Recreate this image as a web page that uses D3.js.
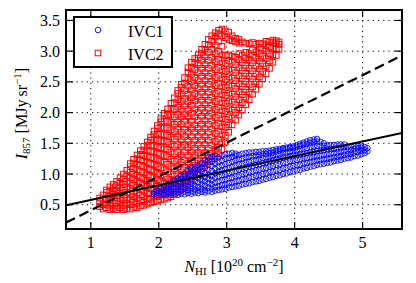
<!DOCTYPE html>
<html>
<head>
<meta charset="utf-8">
<script src="https://cdn.jsdelivr.net/npm/d3@7"></script>
<style>
  body { margin: 0; background: #fff; }
  text { font-family: "Liberation Serif", "DejaVu Serif", serif; }
</style>
</head>
<body>
<div id="chart"></div>
<script>
// tick values
const xTicks = [1, 2, 3, 4, 5];
const yTicks = [0.5, 1.0, 1.5, 2.0, 2.5, 3.0, 3.5];

// fitted lines: [intercept, slope]
const solidFit = [0.34, 0.238];
const dashedFit = [-0.14, 0.55];

// IVC1 points, grouped by N_HI column: [x, [y values]]
const ivc1Cols = [
  [1.93, [0.67, 0.70]],
  [1.98, [0.66, 0.69, 0.73]],
  [2.03, [0.67, 0.71, 0.76]],
  [2.08, [0.66, 0.69, 0.74, 0.79]],
  [2.13, [0.67, 0.72, 0.77, 0.83]],
  [2.18, [0.66, 0.70, 0.75, 0.81, 0.86]],
  [2.23, [0.67, 0.72, 0.78, 0.84, 0.90]],
  [2.28, [0.66, 0.70, 0.75, 0.81, 0.88, 0.93]],
  [2.33, [0.68, 0.73, 0.79, 0.85, 0.92, 0.97]],
  [2.38, [0.67, 0.71, 0.77, 0.83, 0.89, 0.96, 1.00]],
  [2.43, [0.69, 0.74, 0.80, 0.87, 0.93, 1.00, 1.05]],
  [2.48, [0.68, 0.72, 0.78, 0.84, 0.91, 0.98, 1.04, 1.09]],
  [2.53, [0.70, 0.75, 0.81, 0.88, 0.95, 1.02, 1.08, 1.12]],
  [2.58, [0.69, 0.73, 0.79, 0.86, 0.93, 1.00, 1.07, 1.14]],
  [2.63, [0.71, 0.76, 0.83, 0.90, 0.97, 1.04, 1.11, 1.17]],
  [2.68, [0.70, 0.74, 0.81, 0.88, 0.95, 1.02, 1.10, 1.17, 1.22]],
  [2.73, [0.72, 0.78, 0.85, 0.92, 0.99, 1.07, 1.15, 1.22, 1.27]],
  [2.78, [0.71, 0.76, 0.83, 0.90, 0.97, 1.05, 1.13, 1.20, 1.28]],
  [2.83, [0.73, 0.79, 0.86, 0.94, 1.01, 1.09, 1.17, 1.24, 1.29]],
  [2.88, [0.74, 0.80, 0.88, 0.96, 1.04, 1.12, 1.20, 1.27]],
  [2.93, [0.75, 0.82, 0.90, 0.98, 1.06, 1.14, 1.22, 1.30]],
  [2.98, [0.76, 0.83, 0.91, 0.99, 1.08, 1.16, 1.25, 1.32]],
  [3.03, [0.78, 0.85, 0.93, 1.01, 1.10, 1.18, 1.26, 1.33]],
  [3.08, [0.79, 0.86, 0.94, 1.03, 1.12, 1.20, 1.28, 1.34]],
  [3.13, [0.80, 0.88, 0.96, 1.05, 1.14, 1.22, 1.30, 1.33]],
  [3.18, [0.81, 0.89, 0.98, 1.07, 1.16, 1.24, 1.31]],
  [3.23, [0.83, 0.91, 1.00, 1.09, 1.17, 1.25, 1.33]],
  [3.28, [0.84, 0.92, 1.01, 1.10, 1.19, 1.27, 1.34]],
  [3.33, [0.85, 0.94, 1.03, 1.12, 1.20, 1.28, 1.35]],
  [3.38, [0.87, 0.95, 1.04, 1.13, 1.22, 1.29, 1.35]],
  [3.43, [0.88, 0.97, 1.06, 1.15, 1.23, 1.30, 1.36]],
  [3.48, [0.89, 0.98, 1.07, 1.16, 1.24, 1.31, 1.36]],
  [3.53, [0.91, 1.00, 1.09, 1.18, 1.26, 1.32, 1.37]],
  [3.58, [0.92, 1.01, 1.10, 1.19, 1.27, 1.33, 1.37]],
  [3.63, [0.94, 1.03, 1.12, 1.21, 1.28, 1.34, 1.38]],
  [3.68, [0.95, 1.04, 1.13, 1.22, 1.30, 1.35, 1.39]],
  [3.73, [0.97, 1.06, 1.15, 1.24, 1.31, 1.37, 1.40]],
  [3.78, [0.98, 1.07, 1.16, 1.25, 1.32, 1.38, 1.41]],
  [3.83, [1.00, 1.09, 1.18, 1.27, 1.34, 1.40, 1.42]],
  [3.88, [1.01, 1.10, 1.19, 1.28, 1.35, 1.41, 1.43]],
  [3.93, [1.03, 1.12, 1.21, 1.29, 1.36, 1.42, 1.44]],
  [3.98, [1.04, 1.13, 1.22, 1.30, 1.37, 1.43, 1.45]],
  [4.03, [1.06, 1.14, 1.23, 1.31, 1.38, 1.44, 1.47]],
  [4.08, [1.07, 1.15, 1.24, 1.32, 1.40, 1.46, 1.49]],
  [4.13, [1.09, 1.17, 1.25, 1.33, 1.41, 1.48, 1.51]],
  [4.18, [1.10, 1.18, 1.26, 1.34, 1.42, 1.49, 1.53]],
  [4.23, [1.12, 1.19, 1.27, 1.35, 1.44, 1.51, 1.55]],
  [4.28, [1.13, 1.21, 1.28, 1.36, 1.45, 1.52, 1.56]],
  [4.33, [1.15, 1.22, 1.29, 1.37, 1.46, 1.53, 1.57]],
  [4.38, [1.16, 1.23, 1.30, 1.38, 1.46, 1.52]],
  [4.43, [1.17, 1.24, 1.31, 1.39, 1.46, 1.50]],
  [4.48, [1.18, 1.25, 1.32, 1.40, 1.47]],
  [4.53, [1.19, 1.26, 1.33, 1.41, 1.47]],
  [4.58, [1.21, 1.27, 1.34, 1.41, 1.47]],
  [4.63, [1.22, 1.28, 1.35, 1.42, 1.48]],
  [4.68, [1.23, 1.29, 1.36, 1.43, 1.48]],
  [4.73, [1.25, 1.31, 1.37, 1.44, 1.48]],
  [4.78, [1.26, 1.32, 1.38, 1.44]],
  [4.83, [1.27, 1.33, 1.39, 1.45]],
  [4.88, [1.29, 1.35, 1.41, 1.46]],
  [4.93, [1.30, 1.36, 1.42, 1.46]],
  [4.98, [1.32, 1.38, 1.43, 1.46]],
  [5.03, [1.34, 1.39, 1.44]],
  [5.07, [1.37, 1.42]]
];

// IVC2 points, grouped by N_HI column
const ivc2Cols = [
  [1.13, [0.47, 0.55, 0.61]],
  [1.18, [0.43, 0.50, 0.58, 0.66]],
  [1.23, [0.45, 0.53, 0.60, 0.70, 0.74]],
  [1.28, [0.42, 0.49, 0.57, 0.64, 0.72, 0.79]],
  [1.33, [0.44, 0.52, 0.61, 0.68, 0.76, 0.83]],
  [1.38, [0.42, 0.48, 0.56, 0.65, 0.73, 0.81, 0.88]],
  [1.43, [0.45, 0.53, 0.60, 0.69, 0.78, 0.86, 0.94]],
  [1.48, [0.42, 0.49, 0.57, 0.66, 0.74, 0.83, 0.92, 1.00]],
  [1.53, [0.44, 0.53, 0.61, 0.70, 0.79, 0.88, 0.97, 1.06]],
  [1.58, [0.43, 0.50, 0.58, 0.67, 0.76, 0.85, 0.94, 1.03, 1.12, 1.17]],
  [1.63, [0.46, 0.55, 0.63, 0.72, 0.82, 0.91, 1.00, 1.09, 1.18, 1.24]],
  [1.68, [0.45, 0.52, 0.60, 0.69, 0.79, 0.88, 0.98, 1.07, 1.16, 1.25, 1.31]],
  [1.73, [0.48, 0.57, 0.66, 0.75, 0.85, 0.95, 1.04, 1.14, 1.23, 1.32, 1.38]],
  [1.78, [0.49, 0.55, 0.63, 0.72, 0.82, 0.92, 1.02, 1.12, 1.21, 1.30, 1.39, 1.45]],
  [1.83, [0.51, 0.60, 0.69, 0.79, 0.89, 0.99, 1.09, 1.19, 1.29, 1.39, 1.47, 1.52]],
  [1.88, [0.53, 0.59, 0.67, 0.76, 0.86, 0.96, 1.07, 1.17, 1.27, 1.37, 1.47, 1.55, 1.60]],
  [1.93, [0.55, 0.64, 0.73, 0.83, 0.94, 1.04, 1.15, 1.25, 1.36, 1.46, 1.56, 1.64, 1.70]],
  [1.98, [0.56, 0.63, 0.71, 0.80, 0.91, 1.01, 1.12, 1.23, 1.34, 1.44, 1.55, 1.65, 1.74, 1.79]],
  [2.03, [0.58, 0.68, 0.77, 0.88, 0.99, 1.10, 1.21, 1.32, 1.43, 1.54, 1.65, 1.76, 1.85, 1.90]],
  [2.08, [0.59, 0.66, 0.75, 0.85, 0.96, 1.07, 1.19, 1.30, 1.41, 1.53, 1.64, 1.75, 1.86, 1.95, 1.99]],
  [2.13, [0.61, 0.71, 0.81, 0.92, 1.04, 1.16, 1.28, 1.40, 1.52, 1.63, 1.75, 1.86, 1.97, 2.06]],
  [2.18, [0.63, 0.70, 0.79, 0.89, 1.00, 1.12, 1.24, 1.36, 1.48, 1.60, 1.72, 1.84, 1.96, 2.07, 2.15]],
  [2.23, [0.67, 0.76, 0.86, 0.97, 1.09, 1.21, 1.33, 1.45, 1.57, 1.69, 1.81, 1.93, 2.05, 2.16, 2.24]],
  [2.28, [0.71, 0.79, 0.89, 1.00, 1.12, 1.24, 1.36, 1.48, 1.61, 1.73, 1.85, 1.97, 2.09, 2.21, 2.31, 2.36]],
  [2.33, [0.75, 0.85, 0.96, 1.07, 1.19, 1.31, 1.44, 1.56, 1.68, 1.81, 1.93, 2.05, 2.18, 2.30, 2.41, 2.46]],
  [2.38, [0.80, 0.88, 0.99, 1.11, 1.23, 1.36, 1.48, 1.61, 1.73, 1.86, 1.98, 2.11, 2.23, 2.36, 2.48, 2.57]],
  [2.43, [0.85, 0.95, 1.06, 1.18, 1.30, 1.43, 1.55, 1.68, 1.80, 1.93, 2.05, 2.18, 2.30, 2.43, 2.55, 2.66, 2.73]],
  [2.48, [0.90, 0.99, 1.11, 1.23, 1.36, 1.48, 1.61, 1.74, 1.86, 1.99, 2.12, 2.24, 2.37, 2.50, 2.62, 2.74, 2.82]],
  [2.53, [0.96, 1.06, 1.18, 1.30, 1.42, 1.55, 1.68, 1.80, 1.93, 2.06, 2.19, 2.31, 2.44, 2.57, 2.70, 2.81, 2.88]],
  [2.58, [1.02, 1.11, 1.23, 1.35, 1.48, 1.61, 1.74, 1.87, 2.00, 2.13, 2.26, 2.39, 2.52, 2.65, 2.78, 2.89, 2.94]],
  [2.63, [1.08, 1.18, 1.30, 1.42, 1.55, 1.68, 1.81, 1.94, 2.07, 2.20, 2.33, 2.46, 2.59, 2.72, 2.85, 2.97, 3.03]],
  [2.68, [1.14, 1.23, 1.35, 1.48, 1.61, 1.74, 1.87, 2.00, 2.13, 2.26, 2.39, 2.52, 2.65, 2.78, 2.91, 3.03, 3.11]],
  [2.73, [1.20, 1.30, 1.42, 1.55, 1.68, 1.81, 1.94, 2.07, 2.20, 2.33, 2.46, 2.59, 2.72, 2.85, 2.98, 3.10, 3.19]],
  [2.78, [1.25, 1.34, 1.47, 1.60, 1.73, 1.86, 1.99, 2.12, 2.25, 2.38, 2.51, 2.64, 2.77, 2.90, 3.03, 3.16, 3.25]],
  [2.83, [1.29, 1.40, 1.53, 1.66, 1.79, 1.92, 2.05, 2.18, 2.31, 2.44, 2.57, 2.70, 2.83, 2.96, 3.10, 3.23, 3.30]],
  [2.88, [1.33, 1.44, 1.57, 1.70, 1.83, 1.96, 2.09, 2.22, 2.35, 2.48, 2.61, 2.74, 2.87, 3.00, 3.16, 3.28, 3.34]],
  [2.93, [1.40, 1.51, 1.64, 1.77, 1.90, 2.03, 2.16, 2.29, 2.42, 2.55, 2.68, 2.81, 2.94, 3.08, 3.25, 3.36]],
  [2.98, [1.52, 1.63, 1.76, 1.89, 2.02, 2.15, 2.28, 2.41, 2.54, 2.67, 2.80, 2.93, 3.22, 3.33]],
  [3.03, [1.68, 1.80, 1.93, 2.06, 2.19, 2.32, 2.45, 2.58, 2.71, 2.84, 2.94, 3.19, 3.31]],
  [3.08, [1.80, 1.91, 2.04, 2.17, 2.30, 2.43, 2.56, 2.69, 2.82, 2.92, 3.17, 3.25]],
  [3.13, [1.88, 2.00, 2.13, 2.26, 2.39, 2.52, 2.65, 2.78, 2.90, 3.15, 3.21]],
  [3.18, [1.96, 2.08, 2.21, 2.34, 2.47, 2.60, 2.73, 2.86, 2.96, 3.13, 3.19]],
  [3.23, [2.04, 2.16, 2.29, 2.42, 2.55, 2.68, 2.81, 2.93, 3.15]],
  [3.28, [2.13, 2.25, 2.38, 2.51, 2.64, 2.77, 2.89, 2.98, 3.13]],
  [3.33, [2.21, 2.33, 2.46, 2.59, 2.72, 2.85, 2.96, 3.12]],
  [3.38, [2.30, 2.42, 2.55, 2.68, 2.81, 2.93, 3.02, 3.14]],
  [3.43, [2.38, 2.50, 2.63, 2.76, 2.89, 2.99, 3.11]],
  [3.48, [2.46, 2.58, 2.71, 2.84, 2.96, 3.06, 3.13]],
  [3.53, [2.55, 2.67, 2.80, 2.92, 3.03, 3.12]],
  [3.58, [2.63, 2.75, 2.88, 3.00, 3.10, 3.16]],
  [3.63, [2.72, 2.84, 2.96, 3.07, 3.15]],
  [3.68, [2.82, 2.94, 3.05, 3.14, 3.18]],
  [3.73, [2.93, 3.04, 3.12, 3.17]],
  [3.77, [3.03, 3.11, 3.15]]
];

const W = 416, H = 283;
const plot = { left: 66, right: 402, top: 10, bottom: 229 };

const x = d3.scaleLinear().domain([0.635, 5.58]).range([plot.left, plot.right]);
const y = d3.scaleLinear().domain([0.105, 3.67]).range([plot.bottom, plot.top]);

const svg = d3.select("#chart").append("svg")
  .attr("width", W).attr("height", H)
  .style("background", "#fff");

svg.append("defs").append("clipPath").attr("id", "clip")
  .append("rect")
  .attr("x", plot.left).attr("y", plot.top)
  .attr("width", plot.right - plot.left).attr("height", plot.bottom - plot.top);

// dotted grid
const grid = svg.append("g").attr("stroke", "#000").attr("stroke-width", 1)
  .attr("stroke-dasharray", "1.2,4");
grid.selectAll(".gx").data(xTicks).enter().append("line")
  .attr("x1", d => x(d)).attr("x2", d => x(d))
  .attr("y1", plot.top).attr("y2", plot.bottom);
grid.selectAll(".gy").data(yTicks).enter().append("line")
  .attr("x1", plot.left).attr("x2", plot.right)
  .attr("y1", d => y(d)).attr("y2", d => y(d));

const flatten = cols => cols.flatMap(c => c[1].map(v => [c[0], v]));
const ivc1 = flatten(ivc1Cols);
const ivc2 = flatten(ivc2Cols);

const marks = svg.append("g").attr("clip-path", "url(#clip)");

// IVC2 red squares
const sq = 5.6;
marks.append("g").selectAll("rect").data(ivc2).enter().append("rect")
  .attr("x", d => x(d[0]) - sq / 2).attr("y", d => y(d[1]) - sq / 2)
  .attr("width", sq).attr("height", sq)
  .attr("fill", "none").attr("stroke", "#ff0000").attr("stroke-width", 1);

// IVC1 blue circles
marks.append("g").selectAll("circle").data(ivc1).enter().append("circle")
  .attr("cx", d => x(d[0])).attr("cy", d => y(d[1])).attr("r", 2.8)
  .attr("fill", "none").attr("stroke", "#0000ff").attr("stroke-width", 0.9);

// fit lines
const xd = x.domain();
const fitLine = f => xd.map(v => [v, f[0] + f[1] * v]);
const line = d3.line().x(d => x(d[0])).y(d => y(d[1]));
marks.append("path").attr("d", line(fitLine(solidFit)))
  .attr("fill", "none").attr("stroke", "#000").attr("stroke-width", 2.2);
marks.append("path").attr("d", line(fitLine(dashedFit)))
  .attr("fill", "none").attr("stroke", "#000").attr("stroke-width", 2.2)
  .attr("stroke-dasharray", "10,5");

// inward ticks on all sides
const tickLen = 7;
const ticks = svg.append("g").attr("stroke", "#000").attr("stroke-width", 1.2);
xTicks.forEach(t => {
  ticks.append("line").attr("x1", x(t)).attr("x2", x(t)).attr("y1", plot.bottom).attr("y2", plot.bottom - tickLen);
  ticks.append("line").attr("x1", x(t)).attr("x2", x(t)).attr("y1", plot.top).attr("y2", plot.top + tickLen);
});
yTicks.forEach(t => {
  ticks.append("line").attr("y1", y(t)).attr("y2", y(t)).attr("x1", plot.left).attr("x2", plot.left + tickLen);
  ticks.append("line").attr("y1", y(t)).attr("y2", y(t)).attr("x1", plot.right).attr("x2", plot.right - tickLen);
});

// frame
svg.append("rect")
  .attr("x", plot.left).attr("y", plot.top)
  .attr("width", plot.right - plot.left).attr("height", plot.bottom - plot.top)
  .attr("fill", "none").attr("stroke", "#000").attr("stroke-width", 2);

// tick labels
svg.append("g").selectAll("text").data(xTicks).enter().append("text")
  .attr("x", d => x(d)).attr("y", 248)
  .attr("text-anchor", "middle").attr("font-size", 16)
  .text(d => d);
svg.append("g").selectAll("text").data(yTicks).enter().append("text")
  .attr("x", 60).attr("y", d => y(d)).attr("dy", "0.35em")
  .attr("text-anchor", "end").attr("font-size", 16)
  .text(d3.format(".1f"));

// axis labels
const xl = svg.append("text").attr("x", (plot.left + plot.right) / 2).attr("y", 272)
  .attr("text-anchor", "middle").attr("font-size", 16);
xl.append("tspan").attr("font-style", "italic").text("N");
xl.append("tspan").attr("font-size", 11).attr("dy", 3).text("HI");
xl.append("tspan").attr("dy", -3).text(" [10");
xl.append("tspan").attr("font-size", 11).attr("dy", -6).text("20");
xl.append("tspan").attr("dy", 6).text(" cm");
xl.append("tspan").attr("font-size", 11).attr("dy", -6).text("\u22122");
xl.append("tspan").attr("dy", 6).text("]");

const yl = svg.append("text")
  .attr("transform", `translate(27,${(plot.top + plot.bottom) / 2 - 6}) rotate(-90)`)
  .attr("text-anchor", "middle").attr("font-size", 16);
yl.append("tspan").attr("font-style", "italic").text("I");
yl.append("tspan").attr("font-size", 11).attr("dy", 3).text("857");
yl.append("tspan").attr("dy", -3).text(" [MJy\u2009sr");
yl.append("tspan").attr("font-size", 11).attr("dy", -6).text("\u22121");
yl.append("tspan").attr("dy", 6).text("]");

// legend
const lg = svg.append("g");
lg.append("rect").attr("x", 74).attr("y", 17).attr("width", 98).attr("height", 50)
  .attr("fill", "#fff").attr("stroke", "#000").attr("stroke-width", 2);
lg.append("circle").attr("cx", 98).attr("cy", 30).attr("r", 2.8)
  .attr("fill", "none").attr("stroke", "#0000ff").attr("stroke-width", 0.9);
lg.append("rect").attr("x", 98 - sq / 2).attr("y", 53 - sq / 2).attr("width", sq).attr("height", sq)
  .attr("fill", "none").attr("stroke", "#ff0000").attr("stroke-width", 1);
lg.append("text").attr("x", 128).attr("y", 37).attr("font-size", 16).text("IVC1");
lg.append("text").attr("x", 128).attr("y", 60).attr("font-size", 16).text("IVC2");
</script>
</body>
</html>
